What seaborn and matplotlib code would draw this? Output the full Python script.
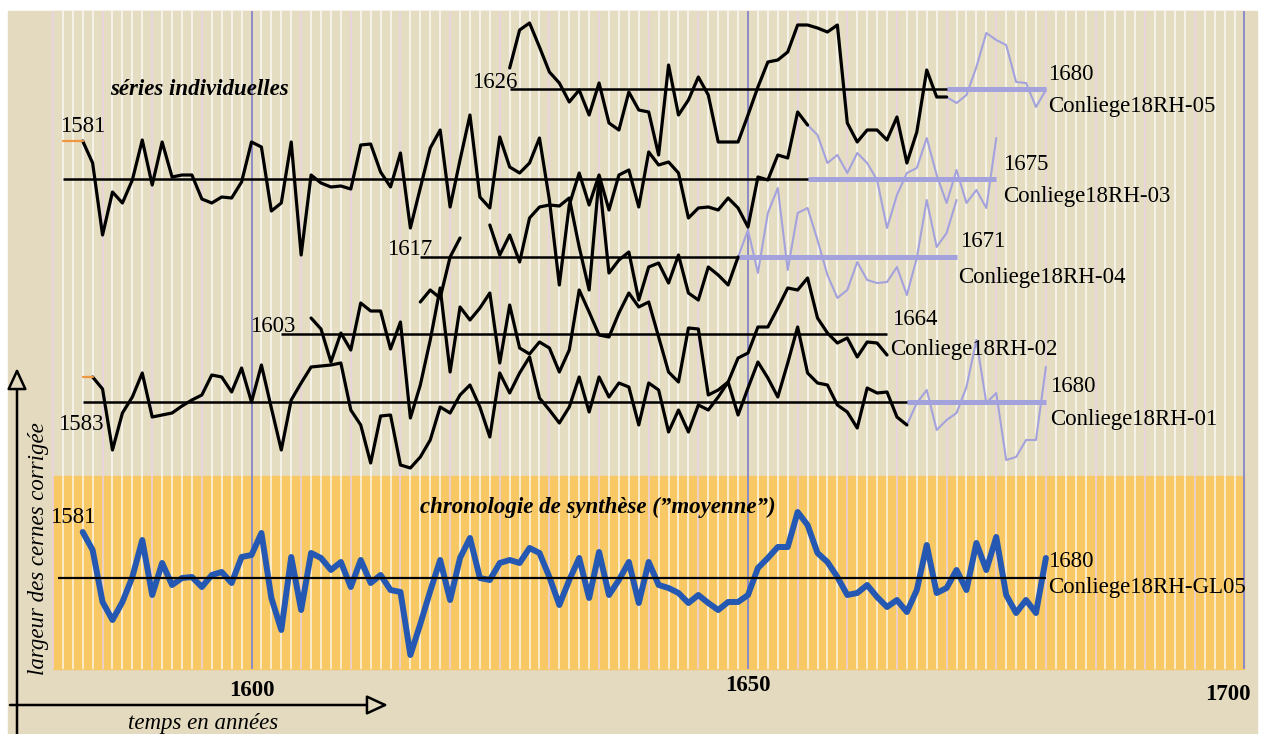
import numpy as np
import pandas as pd
import seaborn as sns
import matplotlib.pyplot as plt
from matplotlib.patches import Rectangle

sns.set_style('white')
plt.rcParams['font.family'] = ['Liberation Serif', 'DejaVu Serif']
plt.rcParams['text.color'] = 'black'

# ring-width deviations from each series mean, one value per year
rh05_start = 1626
rh05 = [21, 59, 66, 42, 17, 6, -13, -1, -26, 6, -34, -41, -3, -21, -23, -66, 24, -26, -11, 12,
        -6, -53, -53, -53, -26, 2, 27, 29, 37, 64, 64, 61, 57, 64, -34, -53, -41, -41, -51, -28,
        -74, -43, 19, -8, -8]
rh05_late = [-14, -6, 22, 56, 49, 44, 7, 6, -18, -1]                       # 1671-1680

rh03_start = 1583
rh03 = [38, 16, -56, -13, -24, -1, 39, -6, 37, 2, 4, 4, -20, -24, -18, -19, -3, 37, 32, -32,
        -24, 37, -76, 4, -4, -8, -7, -10, 34, 35, 7, -8, 26, -49,
        -9, 31, 49, -28, 19, 64, -18, -29, 42, 12, 6, 16, 41, -21, -106, -26, 6, -26, 4, -31,
        4, 9, -28, 27, 14, 17, 6, -39, -29, -28, -31, -19, -29, -48, 2, -1, 24, 21, 67, 54]
rh03_late = [44, 16, 24, 6, 26, 16, -1, -49, -16, 6, 11, 41, 4, -24, 9, -24, -11, -29, 41]  # 1657-1675

rh04_start = 1617
rh04_a = [-45, -33, -41, 0, 19]                                            # 1617-1621
rh04_b_start = 1624
rh04_b = [32, 2, 22, -5, 39, 50, 52, 51, 59, 10, -33, 79, -16, -3, 5, -43, -10, -6, -26, 2,
          -36, -43, -10, -18, -28, 0]                                      # 1624-1649
rh04_late = [27, -16, 44, 69, -13, 44, 49, 17, -18, -41, -33, -5, -23, -26, -25, -10, -38, -1,
             57, 10, 24, 57]                                               # 1650-1671

rh02_start = 1606
rh02 = [16, 5, -28, 1, -16, 31, 23, 23, -15, 12, -84, -51, -6, 46, -38, 27, 14, 26, 41, -29,
        29, -14, -20, -8, -14, -38, -16, 44, 22, -1, -3, 21, 41, 27, 32, -3, -38, -48, 6, 5,
        -61, -56, -48, -24, -19, 7, 7, 26, 46, 44, 56, 16, 1, -9, -4, -23, -8, -9, -21]

rh01_start = 1584
rh01 = [25, 13, -48, -11, 5, 29, -15, -13, -11, -4, 2, 7, 27, 25, 10, 34, 0, 37, -6, -48,
        2, 19, 35, 36, 37, 39, -8, -23, -61, -14, -13, -63, -66, -55, -38, -5, -11, 7, 17, -5,
        -35, 29, 9, 29, 45, 4, -8, -21, -5, 25, -10, 25, 5, 19, 15, -23, 19, 12, -30, -8,
        -30, -3, -8, 5, 20, -13, 14, 40, 24, 5, 39, 75, 29, 19, 17, -3, -10, -26, 14, 9,
        10, -15, -23]
rh01_late = [-1, 12, -28, -18, -11, 15, 62, -1, 9, -58, -55, -38, -38, 35]  # 1667-1680

gl05_start = 1583
gl05 = [46, 28, -24, -42, -24, 1, 38, -17, 15, -7, 0, 1, -9, 3, 6, -5, 21, 23, 45, -20,
        -52, 21, -32, 25, 20, 8, 16, -9, 18, -5, 3, -12, -14, -77, -46, -13, 18, -22, 20, 40,
        0, -2, 15, 18, 15, 30, 25, 1, -27, -2, 20, -20, 26, -17, -2, 16, -25, 16, -7, -10,
        -15, -25, -17, -25, -32, -24, -24, -17, 10, 20, 31, 31, 66, 53, 25, 16, 1, -17, -15, -7,
        -19, -29, -22, -34, -12, 33, -15, -10, 8, -12, 35, 8, 41, -17, -35, -22, -35, 20]

# vertical slot of each series in the stacked drawing (pixel-like units, 0 at top)
slots = {'RH-05': 89, 'RH-03': 179, 'RH-04': 257, 'RH-02': 334, 'RH-01': 402, 'GL05': 578}

BEIGE = '#E3DABF'
PANEL = '#E5DDC2'
ORANGE = '#F8C865'
GRID_BLUE = '#8C8BC8'
LAV = '#A4A2DC'
BLUE = '#2458B2'


def px2yr(px):
    return 1600 + (px - 251.5) / 9.93


def block(name, start, dev, unit):
    yrs = np.arange(start, start + len(dev))
    return pd.DataFrame({'year': yrs, 'y': slots[name] - np.asarray(dev, float), 'unit': unit})


black = pd.concat([
    block('RH-05', rh05_start, rh05, 'RH-05'),
    block('RH-03', rh03_start, rh03, 'RH-03'),
    block('RH-04', rh04_start, rh04_a, 'RH-04a'),
    block('RH-04', rh04_b_start, rh04_b, 'RH-04b'),
    block('RH-02', rh02_start, rh02, 'RH-02'),
    block('RH-01', rh01_start, rh01, 'RH-01'),
])
lav = pd.concat([
    block('RH-05', 1670, [rh05[-1]] + rh05_late, 'RH-05'),
    block('RH-03', 1656, [rh03[-1]] + rh03_late, 'RH-03'),
    block('RH-04', 1649, [rh04_b[-1]] + rh04_late, 'RH-04'),
    block('RH-01', 1666, [rh01[-1]] + rh01_late, 'RH-01'),
])
mean_df = block('GL05', gl05_start, gl05, 'GL05')

fig = plt.figure(figsize=(12.62, 7.34), dpi=100)
fig.patch.set_facecolor('white')
ax = fig.add_axes([0, 0, 1, 1])
ax.axis('off')

# background panels
ax.add_patch(Rectangle((px2yr(8), 11), px2yr(1257) - px2yr(8), 723, color=BEIGE, zorder=0))
ax.add_patch(Rectangle((1580, 11), 120, 465, color=PANEL, zorder=0))
ax.add_patch(Rectangle((1580, 476), 120, 193, color=ORANGE, zorder=0))
years = np.arange(1580, 1700)
ax.vlines([y for y in years if y % 5], 11, 669, color='white', lw=1.1, alpha=0.85, zorder=1)
ax.vlines([y for y in years if y % 5 == 0 and y % 50], 11, 669, color='#EAD3E3', lw=1.1, zorder=1)
ax.vlines([1600, 1650, 1700], 11, 669, color=GRID_BLUE, lw=1.4, zorder=1)

# mean lines
ax.hlines(slots['RH-05'], 1670, 1680, color=LAV, lw=3.6, zorder=2)
ax.hlines(slots['RH-03'], 1656, 1675, color=LAV, lw=3.6, zorder=2)
ax.hlines(slots['RH-04'], 1649, 1671, color=LAV, lw=3.6, zorder=2)
ax.hlines(slots['RH-01'], 1666, 1680, color=LAV, lw=3.6, zorder=2)
ax.hlines(slots['RH-05'], 1626, 1670, color='black', lw=1.8, zorder=4)
ax.hlines(slots['RH-03'], 1581, 1656, color='black', lw=1.8, zorder=4)
ax.hlines(slots['RH-04'], 1617, 1649, color='black', lw=1.8, zorder=4)
ax.hlines(slots['RH-02'], 1603, 1664, color='black', lw=1.8, zorder=4)
ax.hlines(slots['RH-01'], 1583, 1666, color='black', lw=1.8, zorder=4)

# series
sns.lineplot(data=lav, x='year', y='y', units='unit', estimator=None, sort=False,
             color=LAV, lw=1.5, ax=ax, legend=False, zorder=3)
sns.lineplot(data=black, x='year', y='y', units='unit', estimator=None, sort=False,
             color='black', lw=2.3, ax=ax, legend=False, zorder=5)
sns.lineplot(data=mean_df, x='year', y='y', units='unit', estimator=None, sort=False,
             color=BLUE, lw=4.3, ax=ax, legend=False, zorder=5)
ax.hlines(slots['GL05'], 1580.5, 1680, color='black', lw=1.6, zorder=6)

# missing first rings (orange stubs)
ax.plot([1581, 1583], [slots['RH-03'] - rh03[0]] * 2, color='#EE9640', lw=1.6, zorder=5)
ax.plot([1583, 1584], [slots['RH-01'] - rh01[0]] * 2, color='#EE9640', lw=1.6, zorder=5)

ax.set_xlim(px2yr(0), px2yr(1262))
ax.set_ylim(734, 0)
ax.axis('off')

FS = 16.5


def label(px, base, s, ha='left', **kw):
    ax.text(px2yr(px), base, s, ha=ha, va='baseline', fontsize=FS, color='black', zorder=7, **kw)


label(110, 95, 'séries individuelles', weight='bold', style='italic')
label(420, 513, 'chronologie de synthèse (”moyenne”)', weight='bold', style='italic')

label(517, 88, '1626', ha='right')
label(1048, 80, '1680')
label(1048, 112, 'Conliege18RH-05')
label(60, 132, '1581')
label(1003, 170, '1675')
label(1003, 202, 'Conliege18RH-03')
label(432, 255, '1617', ha='right')
label(960, 247, '1671')
label(958, 283, 'Conliege18RH-04')
label(250, 332, '1603')
label(892, 325, '1664')
label(890, 355, 'Conliege18RH-02')
label(58, 430, '1583')
label(1050, 392, '1680')
label(1050, 425, 'Conliege18RH-01')
label(50, 523, '1581')
label(1048, 567, '1680')
label(1048, 593, 'Conliege18RH-GL05')

for yr, base in [(1600, 696), (1650, 691), (1700, 700)]:
    label(251.5 + (yr - 1600) * 9.93 - (17 if yr == 1700 else 0), base, str(yr),
          ha='center', weight='bold')

label(128, 729, 'temps en années', style='italic')
ax.text(px2yr(39), 549, 'largeur des cernes corrigée', rotation=90, ha='center', va='center',
        fontsize=FS, style='italic', color='black', zorder=7)

# axis arrows
arrow = dict(arrowstyle='-|>,head_length=0.65,head_width=0.3', lw=1.8, ec='black', fc=BEIGE,
             shrinkA=0, shrinkB=0, mutation_scale=20)
ax.annotate('', xy=(17, 734 - 368), xytext=(17, 0), xycoords='figure pixels',
            textcoords='figure pixels', arrowprops=arrow)
ax.annotate('', xy=(388, 734 - 705), xytext=(10, 734 - 705), xycoords='figure pixels',
            textcoords='figure pixels', arrowprops=arrow)

fig.savefig('out.png', dpi=100)
